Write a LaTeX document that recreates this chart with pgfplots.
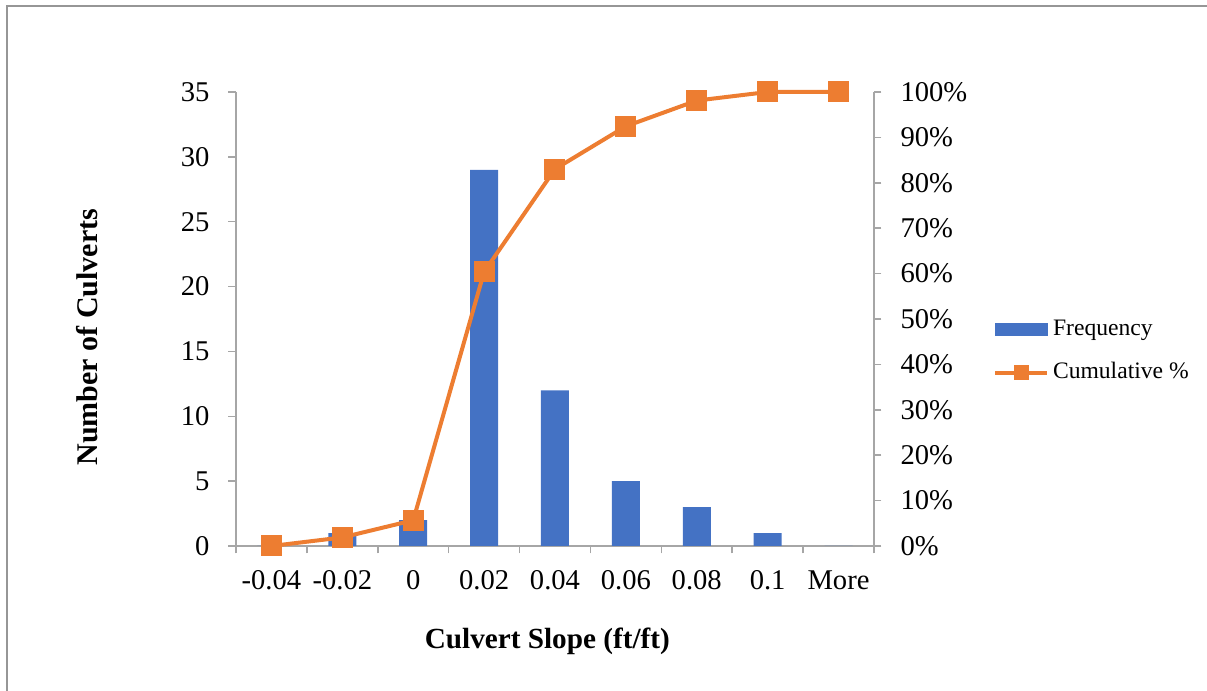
\documentclass[border=0pt]{standalone}
\usepackage{fontspec}
\setmainfont{Liberation Serif}
\usepackage{pgfplots}
\pgfplotsset{compat=1.18}
\usepackage{pgfplotstable}

\definecolor{barblue}{HTML}{4472C4}
\definecolor{lineorange}{HTML}{ED7D31}
\definecolor{axisgray}{RGB}{166,166,166}
\definecolor{framegray}{RGB}{150,150,150}

% bin index, frequency, cumulative percent
\pgfplotstableread{
x freq cum
0 0  0
1 1  1.887
2 2  5.660
3 29 60.377
4 12 83.019
5 5  92.453
6 3  98.113
7 1  100
8 0  100
}\slopedata

\pgfplotsset{
  culvert/.style={
    scale only axis, width=319pt, height=227pt,
    at={(118pt,72.5pt)}, anchor=south west,
    xmin=-0.5, xmax=8.5,
    tick align=outside,
    major tick length=3.75pt, minor tick length=3.75pt,
    tick style={axisgray, line width=0.75pt},
    axis line style={axisgray, line width=0.75pt},
    ticklabel style={font=\fontsize{14.3}{17}\selectfont},
    /pgf/number format/assume math mode=true,
  },
  cumlegend/.style={legend image code/.code={%
    \draw[##1] (0pt,0pt) -- (26pt,0pt);
    \draw[##1, mark size=2.75pt] plot coordinates {(13pt,0pt)};}},
  barlegend/.style={legend image code/.code={%
    \fill[barblue] (0pt,-3pt) rectangle (26pt,3pt);}},
}

\begin{document}
\begin{tikzpicture}
\path[use as bounding box] (0,0) rectangle (603.5pt,345.5pt);
\draw[framegray, line width=0.75pt] (3.5pt,0) -- (3.5pt,342.5pt) -- (603.5pt,342.5pt);

\begin{axis}[culvert,
  axis x line*=bottom, axis y line*=left,
  ymin=0, ymax=35, ytick={0,5,...,35},
  xtick={0,...,8},
  xticklabels={-0.04,-0.02,0,0.02,0.04,0.06,0.08,0.1,More},
  major x tick style={draw=none},
  minor xtick={-0.5,0.5,...,8.5},
  xticklabel style={yshift=-5pt},
  yticklabel style={xshift=-6pt},
  ylabel={Number of Culverts},
  xlabel={Culvert Slope (ft/ft)},
  ylabel style={at={(axis description cs:-0.234,0.46)}, anchor=center,
    font=\bfseries\fontsize{15}{18}\selectfont},
  xlabel style={at={(axis description cs:0.488,-0.209)}, anchor=center,
    font=\bfseries\fontsize{14.6}{18}\selectfont},
]
\addplot[ybar, bar width=14pt, fill=barblue, draw=none] table[x=x, y=freq] {\slopedata};
\end{axis}

\begin{axis}[culvert,
  axis y line*=right, axis x line=none,
  ymin=0, ymax=100, ytick={0,10,...,100},
  yticklabel={\pgfmathprintnumber{\tick}\%},
  yticklabel style={xshift=6pt},
  clip=false,
  legend style={at={(axis description cs:1.186,0.429)}, anchor=west,
    draw=none, fill=none, inner sep=0pt,
    font=\fontsize{11.8}{14}\selectfont,
    nodes={inner sep=0pt, text height=8pt, text depth=2.5pt},
    row sep=11pt,
    /tikz/every odd column/.append style={column sep=2pt}},
  legend cell align=left,
]
\addlegendimage{barlegend}
\addlegendentry{Frequency}
\addplot[lineorange, line width=2pt, mark=square*, mark size=4.25pt, cumlegend]
  table[x=x, y=cum] {\slopedata};
\addlegendentry{Cumulative \%}
\end{axis}
\end{tikzpicture}
\end{document}
